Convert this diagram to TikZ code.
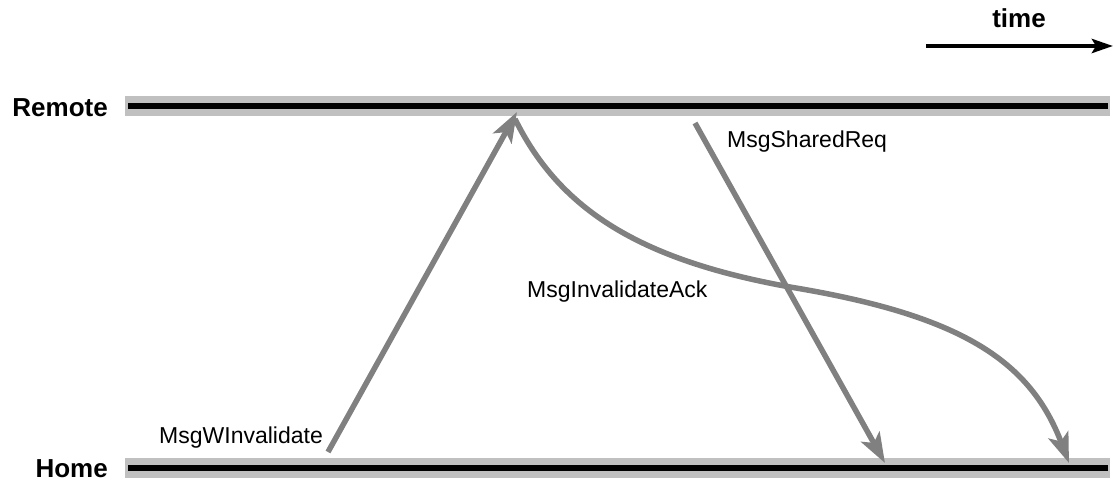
\documentclass[tikz,border=0pt]{standalone}
\usepackage{fontspec}
\setmainfont{Liberation Sans}
\usepackage{tikz}
\usetikzlibrary{arrows.meta,calc}
\definecolor{sqBand}{HTML}{C0C0C0}
\definecolor{sqMsg}{HTML}{808080}
\definecolor{sqInk}{HTML}{000000}
\tikzset{
  sq-band/.style={draw=sqBand, line width=20pt},
  sq-life/.style={draw=sqInk, line width=6pt},
  sq-who/.style={font=\fontsize{26}{30}\selectfont\bfseries, anchor=base east,
    inner sep=0pt, text=sqInk},
  sq-text/.style={font=\fontsize{23}{27}\selectfont, anchor=base west,
    inner sep=0pt, text=sqInk},
  sq-msg/.style={-{Stealth[length=30pt, width=21pt, inset=7pt]},
    line width=5.5pt, draw=sqMsg},
  sq-time/.style={-{Stealth[length=21pt, width=14pt, inset=4pt]},
    line width=4.5pt, draw=sqInk}
}
\begin{document}
\begin{tikzpicture}[x=1pt, y=-1pt]
\useasboundingbox (0,0) rectangle (1114,481);
% lifelines
\coordinate (remoteL) at (125,106.5);
\coordinate (remoteR) at (1110,106.5);
\coordinate (homeL) at (125,468);
\coordinate (homeR) at (1110,468);
\draw[sq-band] (remoteL) -- (remoteR);
\draw[sq-band] (homeL) -- (homeR);
\draw[sq-life] ($(remoteL)+(3,0)$) -- ($(remoteR)+(-2,0)$);
\draw[sq-life] ($(homeL)+(3,0)$) -- ($(homeR)+(-2,0)$);
\node[sq-who] (remote) at (108,117) {Remote};
\node[sq-who] (home) at (108,477) {Home};

% time axis
\coordinate (timeL) at (926,46);
\coordinate (timeR) at (1113,46);
\draw[sq-time] (timeL) -- (timeR);
\node[font=\fontsize{26}{30}\selectfont\bfseries, anchor=base, inner sep=0pt]
  (time) at (1019,28) {time};

% messages
\coordinate (wiSrc) at (328,452);
\coordinate (wiDst) at (517,112);
\coordinate (ackSrc) at (515,119);
\coordinate (ackMid) at (790,287);
\coordinate (ackDst) at (1069,463);
\coordinate (shSrc) at (695,123);
\coordinate (shDst) at (885,463);
\draw[sq-msg] (wiSrc) -- (wiDst);
\draw[sq-msg] (ackSrc) .. controls (560,210) and (640,260) .. (ackMid)
  .. controls (960,315) and (1030,360) .. (ackDst);
\draw[sq-msg] (shSrc) -- (shDst);
\node[sq-text] (wiLabel) at (159,443) {MsgWInvalidate};
\node[sq-text] (ackLabel) at (527,298) {MsgInvalidateAck};
\node[sq-text] (shLabel) at (727,148) {MsgSharedReq};
\end{tikzpicture}
\end{document}
